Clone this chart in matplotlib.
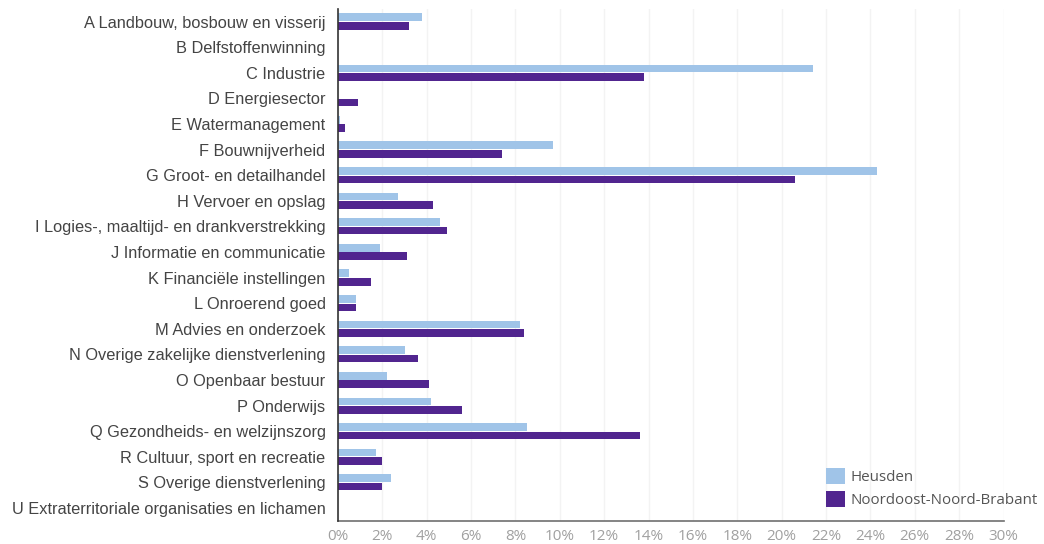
import matplotlib
matplotlib.use("Agg")
import matplotlib.pyplot as plt
from matplotlib.patches import Patch
import numpy as np

categories = [
    "A Landbouw, bosbouw en visserij",
    "B Delfstoffenwinning",
    "C Industrie",
    "D Energiesector",
    "E Watermanagement",
    "F Bouwnijverheid",
    "G Groot- en detailhandel",
    "H Vervoer en opslag",
    "I Logies-, maaltijd- en drankverstrekking",
    "J Informatie en communicatie",
    "K Financiële instellingen",
    "L Onroerend goed",
    "M Advies en onderzoek",
    "N Overige zakelijke dienstverlening",
    "O Openbaar bestuur",
    "P Onderwijs",
    "Q Gezondheids- en welzijnszorg",
    "R Cultuur, sport en recreatie",
    "S Overige dienstverlening",
    "U Extraterritoriale organisaties en lichamen",
]
heusden = [3.8, 0.0, 21.4, 0.0, 0.1, 9.7, 24.3, 2.7, 4.6, 1.9,
           0.5, 0.8, 8.2, 3.0, 2.2, 4.2, 8.5, 1.7, 2.4, 0.0]
noordoost = [3.2, 0.0, 13.8, 0.9, 0.3, 7.4, 20.6, 4.3, 4.9, 3.1,
             1.5, 0.8, 8.4, 3.6, 4.1, 5.6, 13.6, 2.0, 2.0, 0.0]
series_names = ["Heusden", "Noordoost-Noord-Brabant"]
xticks = list(range(0, 31, 2))

c_heusden = "#a0c4e8"
c_noordoost = "#51258f"

W, H = 1044, 544
fig = plt.figure(figsize=(W / 100, H / 100), dpi=100)
ax = fig.add_axes([338 / W, 1 - 520.8 / H, (1003.5 - 338) / W, (520.8 - 8.7) / H])

y = np.arange(len(categories))
h = 0.30
ax.barh(y - 0.165, heusden, height=h, color=c_heusden, zorder=3)
ax.barh(y + 0.165, noordoost, height=h, color=c_noordoost, zorder=3)

ax.set_ylim(len(categories) - 0.5, -0.5)
ax.set_xlim(0, 30)
ax.set_yticks(y)
ax.set_yticklabels(categories, family="Liberation Sans", fontsize=11.8, color="#444444")
ax.set_xticks(xticks)
ax.set_xticklabels([f"{t}%" for t in xticks], family="Open Sans", fontsize=11, color="#a0a0a0")
ax.tick_params(axis="y", length=0, pad=9)
ax.tick_params(axis="x", length=0, pad=6)

ax.grid(axis="x", color="#f3f3f3", linewidth=1, zorder=0)
for s in ["top", "right"]:
    ax.spines[s].set_visible(False)
ax.spines["left"].set_color("#333333")
ax.spines["left"].set_linewidth(1.2)
ax.spines["bottom"].set_color("#707070")
ax.spines["bottom"].set_linewidth(1.2)
ax.spines["left"].set_zorder(4)

handles = [Patch(facecolor=c_heusden, edgecolor="none"),
           Patch(facecolor=c_noordoost, edgecolor="none")]
leg = fig.legend(handles, series_names, loc="lower left",
                 bbox_to_anchor=(826 / W, 1 - 508 / H), bbox_transform=fig.transFigure,
                 frameon=False, prop={"family": "Open Sans", "size": 10.9},
                 handlelength=1.25, handleheight=1.25, handletextpad=0.4,
                 labelspacing=0.4, borderpad=0, borderaxespad=0)
for t in leg.get_texts():
    t.set_color("#555555")

fig.savefig("out.png", dpi=100, facecolor="white")
